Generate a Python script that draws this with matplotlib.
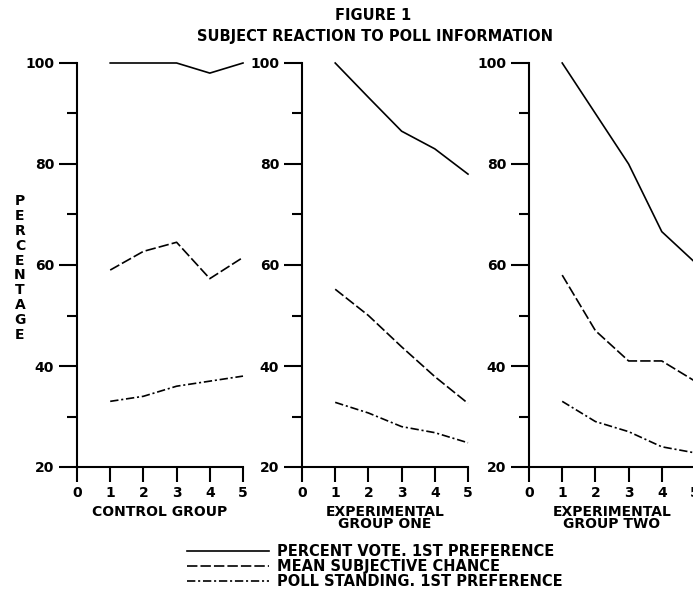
import matplotlib
matplotlib.use('Agg')
import matplotlib.pyplot as plt

# Data
sessions = [1, 2, 3, 4, 5]

control_vote = [100, 100, 100, 98, 100]
control_chance = [59, 62.7, 64.5, 57.3, 61.5]
control_poll = [33, 34, 36, 37, 38]

exp1_vote = [100, 93.2, 86.5, 83, 78]
exp1_chance = [55.2, 50, 43.8, 37.9, 32.6]
exp1_poll = [32.8, 30.7, 28, 26.8, 24.8]

exp2_vote = [100, 90, 80, 66.6, 60.5]
exp2_chance = [58, 47, 41, 41, 37]
exp2_poll = [33, 29, 27, 24, 22.8]

group_labels = ['CONTROL GROUP', 'EXPERIMENTAL\nGROUP ONE', 'EXPERIMENTAL\nGROUP TWO']
series_labels = ['PERCENT VOTE. 1ST PREFERENCE',
                 'MEAN SUBJECTIVE CHANCE',
                 'POLL STANDING. 1ST PREFERENCE']
yticks_major = [20, 40, 60, 80, 100]
yticks_minor = [30, 50, 70, 90]
xticks = [0, 1, 2, 3, 4, 5]

groups = [(control_vote, control_chance, control_poll),
          (exp1_vote, exp1_chance, exp1_poll),
          (exp2_vote, exp2_chance, exp2_poll)]

plt.rcParams['font.family'] = ['DejaVu Sans']
plt.rcParams['font.weight'] = 'bold'
plt.rcParams['axes.labelweight'] = 'bold'
plt.rcParams['font.size'] = 10
plt.rcParams['lines.scale_dashes'] = False

W, H = 693, 594
fig = plt.figure(figsize=(W / 100, H / 100), dpi=100)

styles = [dict(linestyle='-'),
          dict(linestyle=(0, (7.5, 2.2))),
          dict(linestyle=(0, (6, 2, 1.5, 2)))]

ax_left = [77, 302, 529]
handles = []
for i, left in enumerate(ax_left):
    ax = fig.add_axes([left / W, 1 - 467 / H, 166 / W, 404 / H])
    for vals, st in zip(groups[i], styles):
        ln, = ax.plot(sessions, vals, color='black', lw=1.2, clip_on=False, **st)
        if i == 0:
            handles.append(ln)
    ax.set_xlim(0, 5)
    ax.set_ylim(20, 100)
    ax.spines['top'].set_visible(False)
    ax.spines['right'].set_visible(False)
    for s in ['left', 'bottom']:
        ax.spines[s].set_linewidth(1.5)
    ax.set_xticks(xticks)
    ax.set_yticks(yticks_major)
    ax.set_yticks(yticks_minor, minor=True)
    ax.tick_params(axis='y', which='major', direction='out', length=13, width=1.5, pad=3.5)
    ax.tick_params(axis='y', which='minor', direction='out', length=7, width=1.5)
    ax.tick_params(axis='x', which='major', direction='out', length=11, width=1.5, pad=3)
    ax.set_xlabel(group_labels[i], linespacing=0.85, labelpad=3)

# y label as stacked letters
fig.text(20 / W, 1 - 268 / H, '\n'.join('PERCENTAGE'), ha='center', va='center',
         linespacing=1.08)

fig.text(373 / W, 1 - 15 / H, 'FIGURE 1', ha='center', va='center', fontsize=10.5)
fig.text(375 / W, 1 - 36 / H, 'SUBJECT REACTION TO POLL INFORMATION', ha='center',
         va='center', fontsize=10.5)

fig.legend(handles, series_labels, loc='upper left', bbox_to_anchor=(187 / W, 1 - 544 / H),
           frameon=False, borderpad=0, borderaxespad=0, handlelength=5.6,
           handletextpad=0.6, labelspacing=0.0, handleheight=0.6, fontsize=10.5)

fig.savefig('out.png', dpi=100)
